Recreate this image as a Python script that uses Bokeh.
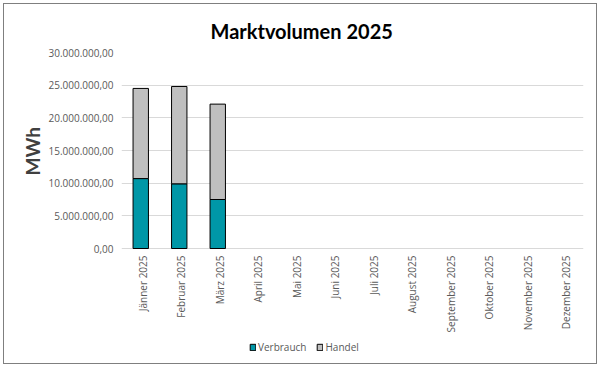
from bokeh.plotting import figure
from bokeh.models import Legend, LegendItem, CustomJSTickFormatter, FactorRange, Range1d, ColumnDataSource, Title
from bokeh.core.properties import value
from bokeh.embed import file_html
from bokeh.resources import INLINE
import math

nan = float("nan")
months = ["Jänner 2025", "Februar 2025", "März 2025", "April 2025", "Mai 2025", "Juni 2025",
          "Juli 2025", "August 2025", "September 2025", "Oktober 2025", "November 2025", "Dezember 2025"]
verbrauch = [10700000, 9900000, 7500000, nan, nan, nan, nan, nan, nan, nan, nan, nan]
handel = [13800000, 14900000, 14600000, nan, nan, nan, nan, nan, nan, nan, nan, nan]
series = ["Verbrauch", "Handel"]
colors = ["#0097A7", "#BFBFBF"]
y_ticks = [0, 5000000, 10000000, 15000000, 20000000, 25000000, 30000000]
y_max = 30000000

FONT = "Open Sans"
TITLE_FONT = "Lato"

# frame extends below the zero line so the month labels and legend can live inside it
below_px, above_px = 112, 196
p = figure(x_range=FactorRange(*months), y_range=Range1d(-y_max * below_px / above_px, y_max),
           frame_width=462, frame_height=below_px + above_px,
           output_backend="svg", toolbar_location=None,
           min_border_left=121, min_border_right=17, min_border_top=52, min_border_bottom=7)

data = {"months": months, "Verbrauch": verbrauch, "Handel": handel}
r = p.vbar_stack(series, x="months", width=0.4, color=colors, line_color="#000000", line_width=1, source=data)

# month labels below the zero line
lab_src = ColumnDataSource(dict(x=months, y=[0] * len(months), t=months))
p.text(x="x", y="y", text="t", source=lab_src, angle=math.pi / 2,
       text_align="right", text_baseline="middle", x_offset=2, y_offset=7,
       text_font=value(FONT), text_font_size="10px", text_color="#595959")

p.title.text = "Marktvolumen 2025"
p.title.align = "left"
p.title.offset = 89
p.title.text_font = TITLE_FONT
p.title.text_font_size = "20px"
p.title.text_font_style = "bold"
p.title.text_color = "#000000"
p.title.standoff = 20

ytitle = Title(text="MWh", align="left", offset=185, standoff=4,
               text_font=TITLE_FONT, text_font_size="19px", text_font_style="bold",
               text_color="#404040")
p.add_layout(ytitle, "left")

p.yaxis.ticker = y_ticks
p.yaxis.formatter = CustomJSTickFormatter(code="""
const s = Math.round(tick).toString().replace(/\\B(?=(\\d{3})+(?!\\d))/g, '.');
return s + ',00';
""")
p.yaxis.major_label_text_font = FONT
p.yaxis.major_label_text_font_size = "10px"
p.yaxis.major_label_text_color = "#595959"
p.yaxis.axis_line_color = None
p.yaxis.major_tick_line_color = None
p.yaxis.minor_tick_line_color = None
p.yaxis.major_tick_out = 0
p.yaxis.major_label_standoff = 8

p.xaxis.visible = False
p.xgrid.grid_line_color = None
p.ygrid.grid_line_color = "#D9D9D9"
p.ygrid.ticker = y_ticks
p.outline_line_color = None
p.x_range.range_padding = 0
p.border_fill_color = None

legend = Legend(items=[LegendItem(label=s, renderers=[r[i]]) for i, s in enumerate(series)],
                orientation="horizontal", location=(128, 6),
                label_text_font=FONT, label_text_font_size="10px", label_text_color="#595959",
                glyph_width=7, glyph_height=8, label_standoff=2, spacing=10,
                border_line_color=None, background_fill_alpha=0, margin=0, padding=2)
p.add_layout(legend, "center")

p.styles = {"box-shadow": "inset 0 0 0 3px #ffffff, inset 0 0 0 4px #7f7f7f", "background-color": "#ffffff"}

open("out.html", "w").write(file_html(p, INLINE))
